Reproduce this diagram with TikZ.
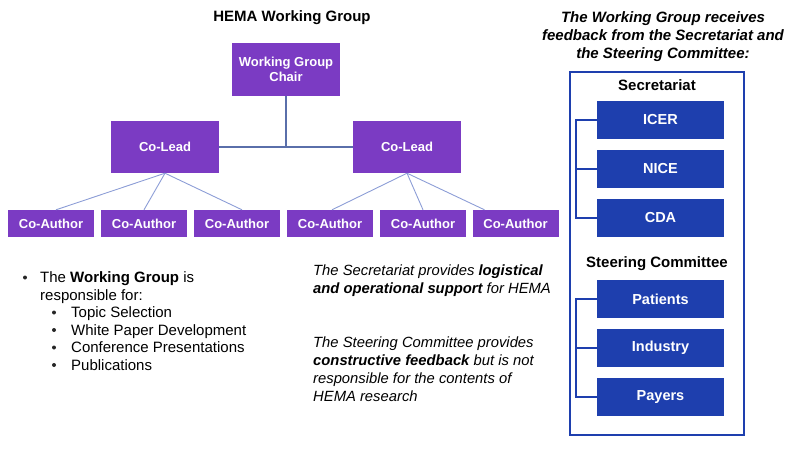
\documentclass[tikz,border=0pt]{standalone}
\usepackage{fontspec}
\setmainfont{Liberation Sans}
\definecolor{wgpurple}{HTML}{7B3BC3}
\definecolor{fbblue}{HTML}{1E3FAE}
\definecolor{chairline}{HTML}{5A6FAA}
\definecolor{authorline}{HTML}{8C9DD6}
\begin{document}
\begin{tikzpicture}[x=1pt,y=-1pt,
  purplebox/.style={fill=wgpurple,text=white,inner sep=0pt,align=center,
    font=\fontsize{13}{15}\selectfont\bfseries},
  bluebox/.style={fill=fbblue,text=white,inner sep=0pt,minimum width=127pt,
    minimum height=38pt,font=\fontsize{14.5}{17}\selectfont\bfseries},
  heading/.style={inner sep=0pt,font=\fontsize{15}{18}\selectfont\bfseries},
  bodytext/.style={inner sep=0pt,anchor=base west,font=\fontsize{15}{18}\selectfont},
  bulletdot/.style={circle,fill=black!85,inner sep=0pt,minimum size=4pt},
  noteline/.style={inner sep=0pt,anchor=north west,align=left,
    font=\fontsize{14.8}{18}\selectfont\itshape},
  every node/.style={align=center}]
\useasboundingbox (0,0) rectangle (800,450);

%working group tree
  \node[heading] (wgtitle) at (292,18) {HEMA Working Group};
  \node[purplebox,minimum width=108pt,minimum height=53pt] (chair) at (286,69.5) {Working Group\\Chair};
  \node[purplebox,minimum width=108pt,minimum height=52pt] (cl1) at (165,147) {Co-Lead};
  \node[purplebox,minimum width=108pt,minimum height=52pt] (cl2) at (407,147) {Co-Lead};
  \foreach \i/\x in {1/51,2/144,3/237,4/330,5/423,6/515.5}
    \node[purplebox,minimum width=86pt,minimum height=27pt] (ca\i) at (\x,223.5) {Co-Author};

%draw connectors
  \draw[chairline,line width=1.5pt] (cl1.east) -- (cl2.west);
  \draw[chairline,line width=1.5pt] (chair.south) -- (chair.south |- cl1.east);
  \draw[authorline,line width=0.9pt] (cl1.south) -- ([xshift=5pt]ca1.north);
  \draw[authorline,line width=0.9pt] (cl1.south) -- (ca2.north);
  \draw[authorline,line width=0.9pt] (cl1.south) -- ([xshift=5pt]ca3.north);
  \draw[authorline,line width=0.9pt] (cl2.south) -- ([xshift=2pt]ca4.north);
  \draw[authorline,line width=0.9pt] (cl2.south) -- (ca5.north);
  \draw[authorline,line width=0.9pt] (cl2.south) -- ([xshift=-31pt]ca6.north);

%responsibilities
  \node[bulletdot] (dot) at (25,277.5) {};
  \node[bodytext] (resp1) at (40,282.5) {The \textbf{Working Group} is};
  \node[bodytext] (resp2) at (40,300) {responsible for:};
  \foreach \y/\task in {317.5/Topic Selection,335/White Paper Development,352.5/Conference Presentations,370/Publications} {
    \node[bulletdot] at (54,\y-5) {};
    \node[bodytext] at (71,\y) {\task}; }

%notes
  \node[noteline] (secnote) at (313,264.5) {The Secretariat provides \textbf{logistical}\\\textbf{and operational support} for HEMA};
  \node[noteline] (scnote) at (313,337) {The Steering Committee provides\\\textbf{constructive feedback} but is not\\responsible for the contents of\\HEMA research};

%feedback panel
  \node[heading,font=\fontsize{15}{18}\selectfont\bfseries\itshape] (fbtitle) at (663,37) {The Working Group receives\\feedback from the Secretariat and\\the Steering Committee:};
  \draw[fbblue,line width=2pt] (570,72) rectangle (744,435);
  \node[heading] (sectitle) at (657,85) {Secretariat};
  \node[heading] (sctitle) at (657,264) {Steering Committee};
  \foreach \n/\y/\name in {icer/120/ICER,nice/169/NICE,cda/218/CDA,pat/299/Patients,ind/348/Industry,pay/397/Payers}
    \node[bluebox] (\n) at (660.5,\y) {\name};

%draw brackets
  \draw[fbblue,line width=1.5pt] (icer.west) -- ++(-21,0) |- (cda.west);
  \draw[fbblue,line width=1.5pt] (nice.west) -- ++(-21,0);
  \draw[fbblue,line width=1.5pt] (pat.west) -- ++(-21,0) |- (pay.west);
  \draw[fbblue,line width=1.5pt] (ind.west) -- ++(-21,0);

\end{tikzpicture}
\end{document}
